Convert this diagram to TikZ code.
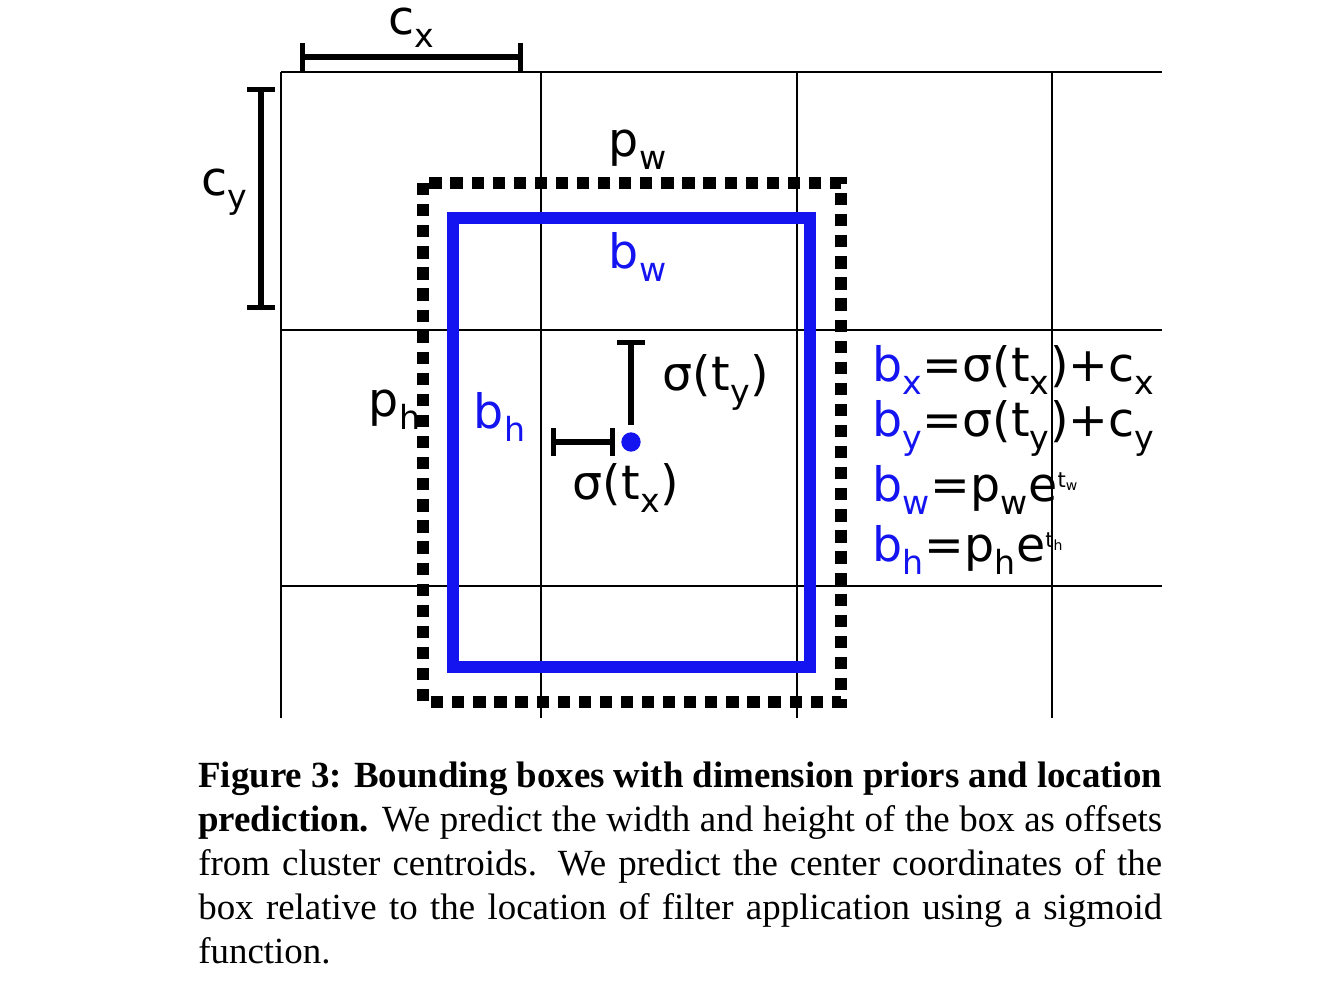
\documentclass[tikz,border=0pt]{standalone}
\usepackage{fontspec}
\setmainfont{Liberation Serif}
\newfontfamily\diagfont{DejaVu Sans}
\usetikzlibrary{positioning}
\definecolor{boxblue}{RGB}{20,20,240}
\newcommand{\sbx}[1]{\textsubscript{\raisebox{-0.35ex}{#1}}}
\newcommand{\expt}[1]{\raisebox{0.55ex}{\fontsize{12}{12}\selectfont t\raisebox{-0.3ex}{\fontsize{8}{8}\selectfont #1}}}
\begin{document}
\begin{tikzpicture}[x=0.02cm,y=-0.02cm]
  \tikzset{
    lbl/.style={font=\diagfont\fontsize{27}{27}\selectfont,inner sep=0pt},
    bar/.style={line width=3pt},
    gridline/.style={line width=1.1pt}
  }
  \useasboundingbox (0,0) rectangle (1340,997);
  % Grid
  \foreach \x in {281,541,797,1052}
    \draw[gridline] (\x,72) -- (\x,718);
  \foreach \y in {72,330,586}
    \draw[gridline] (281,\y) -- (1162,\y);

  % Cell size bars
  \coordinate (cxa) at (300,57);
  \coordinate (cxb) at (523,57);
  \draw[bar,|-|] (cxa) -- (cxb);
  \node[lbl] (cx) at (412,28) {c\sbx{x}};
  \coordinate (cya) at (261,87);
  \coordinate (cyb) at (261,310);
  \draw[bar,|-|] (cya) -- (cyb);
  \node[lbl] (cy) at (225,192) {c\sbx{y}};

  % Prior and predicted boxes
  \draw[line width=7pt,dash pattern=on 7pt off 5pt] (423,183) rectangle (841,702);
  \draw[boxblue,line width=7pt] (453,218) rectangle (810,667);
  \node[lbl] (pw) at (638,150) {p\sbx{w}};
  \node[lbl,boxblue] (bw) at (638,257) {b\sbx{w}};
  \node[lbl] (ph) at (395,410) {p\sbx{h}};
  \node[lbl,boxblue] (bh) at (500,417) {b\sbx{h}};

  % Offsets
  \node[circle,fill=boxblue,inner sep=0pt,minimum size=11pt] (ctr) at (631,442) {};
  \coordinate (tytop) at (631,340);
  \coordinate (tybot) at (631,425);
  \draw[bar,|-] (tytop) -- (tybot);
  \coordinate (txl) at (551,442);
  \coordinate (txr) at (615,442);
  \draw[bar,|-|] (txl) -- (txr);
  \node[lbl] (sty) at (716,382) {σ(t\sbx{y})};
  \node[lbl] (stx) at (626,488) {σ(t\sbx{x})};

  % Equations
  \node[lbl,anchor=west] (eqx) at (872,370) {\textcolor{boxblue}{b\sbx{x}}=σ(t\sbx{x})+c\sbx{x}};
  \node[lbl,anchor=west] (eqy) at (872,428) {\textcolor{boxblue}{b\sbx{y}}=σ(t\sbx{y})+c\sbx{y}};
  \node[lbl,anchor=west] (eqw) at (872,490) {\textcolor{boxblue}{b\sbx{w}}=p\sbx{w}e\expt{w}};
  \node[lbl,anchor=west] (eqh) at (872,550) {\textcolor{boxblue}{b\sbx{h}}=p\sbx{h}e\expt{h}};

  % Caption
  \node[anchor=north west,text width=19.28cm,align=justify,inner sep=0pt,
        font=\fontsize{21}{25}\selectfont] (cap) at (198,762)
  {\textbf{Figure 3: Bounding boxes with dimension priors and location prediction.} We predict the width and height of the box as offsets from cluster centroids. We predict the center coordinates of the box relative to the location of filter application using a sigmoid function.};
\end{tikzpicture}
\end{document}
